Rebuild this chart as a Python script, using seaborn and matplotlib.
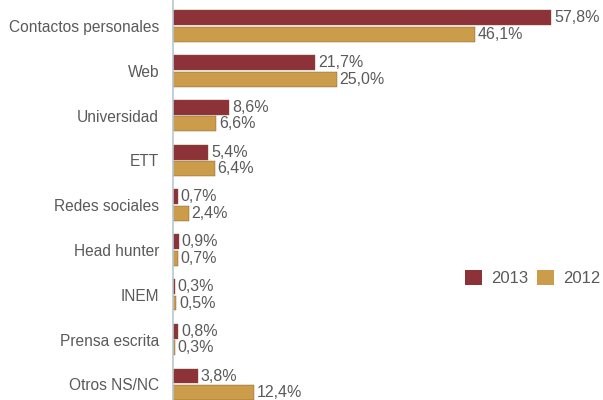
import pandas as pd
import seaborn as sns
import matplotlib.pyplot as plt

categories = ["Contactos personales", "Web", "Universidad", "ETT", "Redes sociales",
              "Head hunter", "INEM", "Prensa escrita", "Otros NS/NC"]
years = ["2013", "2012"]
v2013 = [57.8, 21.7, 8.6, 5.4, 0.7, 0.9, 0.3, 0.8, 3.8]
v2012 = [46.1, 25.0, 6.6, 6.4, 2.4, 0.7, 0.5, 0.3, 12.4]
colors = ["#8E3239", "#CB9C4A"]

df = pd.DataFrame({
    "cat": categories * 2,
    "year": [years[0]] * len(categories) + [years[1]] * len(categories),
    "pct": v2013 + v2012,
})

sns.set_theme(style="white")
plt.rcParams["font.family"] = ["Liberation Sans", "DejaVu Sans"]

fig = plt.figure(figsize=(6.03, 4.0), dpi=100)
ax = fig.add_axes([173 / 603, 0, 1 - 173 / 603, 1])

sns.barplot(data=df, y="cat", x="pct", hue="year", hue_order=years, order=categories,
            palette=colors, saturation=1, orient="h", width=0.74, gap=0.1, ax=ax,
            edgecolor="#7a5530", linewidth=0.3)

for cont, vals in zip(ax.containers, [v2013, v2012]):
    ax.bar_label(cont, labels=[f"{v:.1f}%".replace(".", ",") for v in vals],
                 padding=2, fontsize=11.5, color="#5a5a5a")

ax.set_xlim(0, 65.7)
ax.set_ylim(8.35, -0.58)
ax.set_xlabel("")
ax.set_ylabel("")
ax.set_xticks([])
ax.tick_params(axis="y", length=0, pad=10, labelsize=11.2, labelcolor="#5a5a5a")
for s in ["top", "right", "bottom"]:
    ax.spines[s].set_visible(False)
ax.spines["left"].set_color("#B9C6CF")
ax.spines["left"].set_linewidth(1.2)

sns.move_legend(ax, "center left", bbox_to_anchor=(0.678, 0.305), ncol=2, frameon=False,
                title=None, fontsize=12, handlelength=1.05, handleheight=1.05,
                columnspacing=0.5, handletextpad=0.55, labelcolor="#5a5a5a",
                borderaxespad=0, borderpad=0)
for h in ax.get_legend().legend_handles:
    h.set_edgecolor("none")

fig.savefig("out.png", dpi=100)
